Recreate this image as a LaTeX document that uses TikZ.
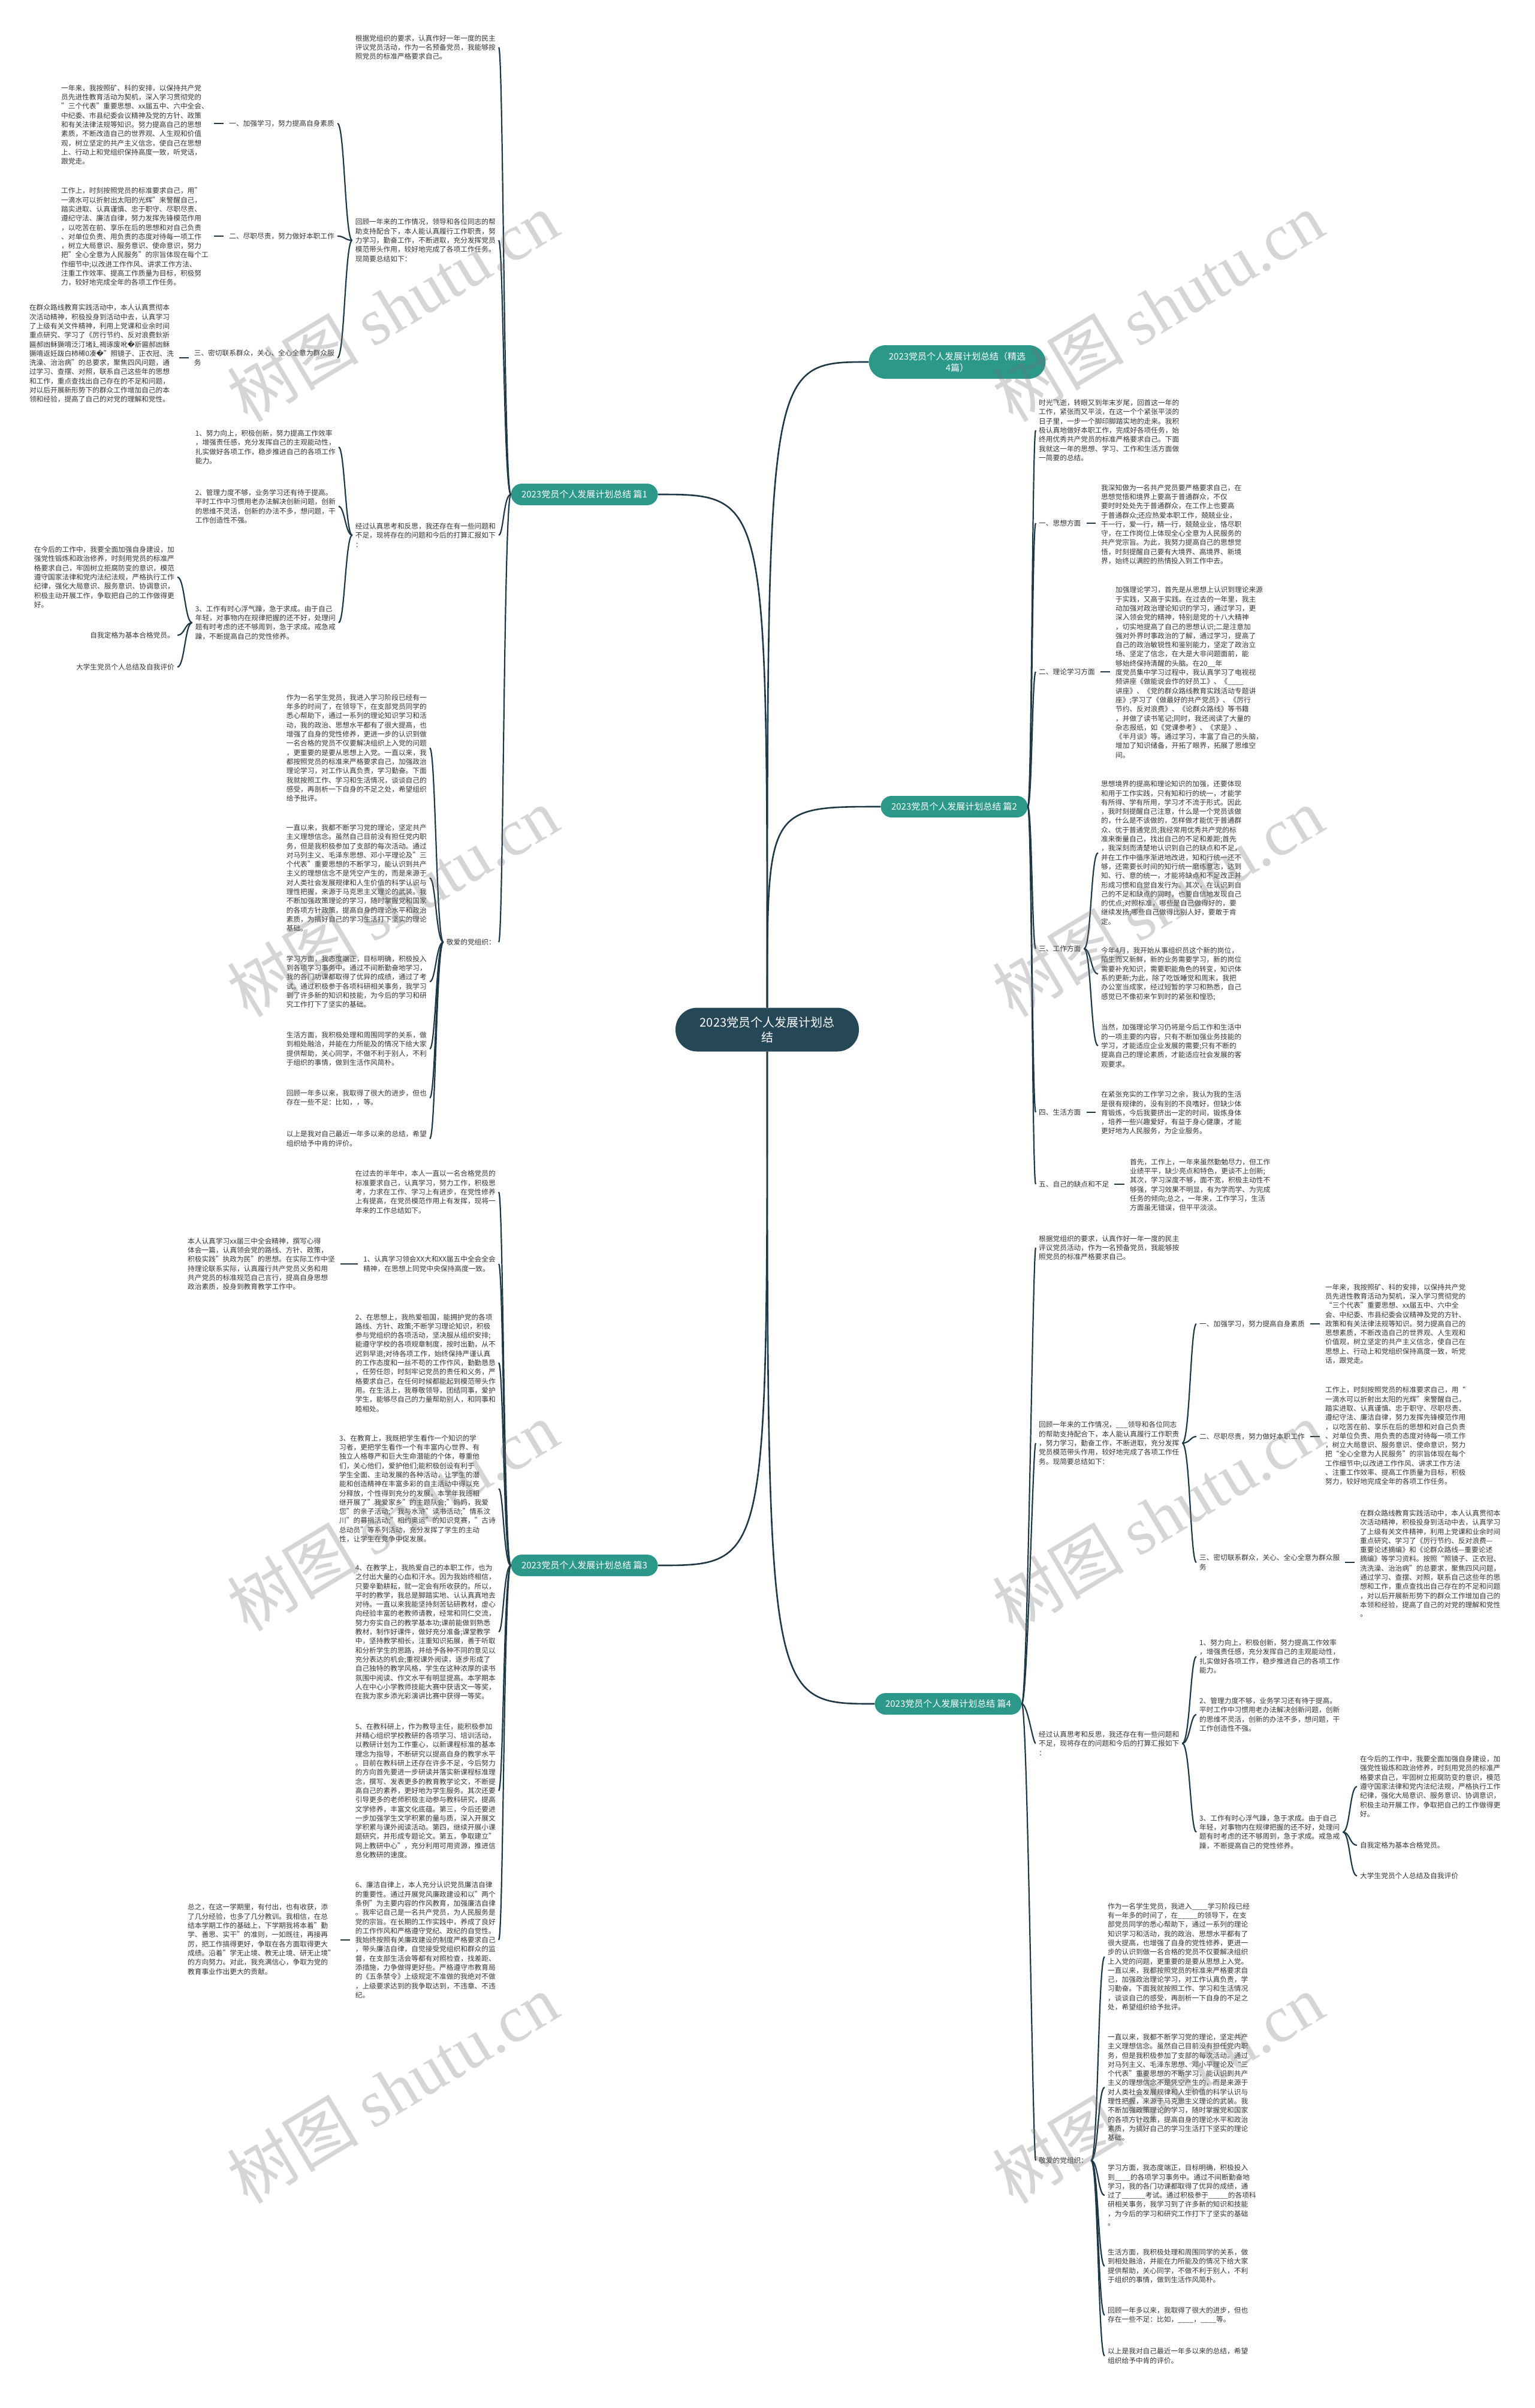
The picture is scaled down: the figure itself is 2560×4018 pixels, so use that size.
\documentclass[tikz,border=0pt]{standalone}
\usepackage{fontspec}
\setmainfont{Noto Sans CJK SC}
\newfontfamily\wmlatin{Liberation Serif}
\newfontfamily\repfont{DejaVu Sans}
\usepackage{tikz}
\definecolor{rootfill}{HTML}{264756}
\definecolor{topicfill}{HTML}{2C9889}
\definecolor{linecol}{HTML}{1F3846}
\definecolor{textcol}{HTML}{333333}
\newcommand{\bodysize}{\fontsize{11.7}{15.3}\selectfont}
\newcommand{\badchar}{{\repfont �}}

\begin{document}
\begin{tikzpicture}[x=1pt, y=-1pt,
root/.style={fill=rootfill, rounded corners=36pt, text=white, align=center, font=\fontsize{20}{25}\selectfont, minimum width=306pt, minimum height=73pt},
topic/.style={fill=topicfill, rounded corners=18pt, text=white, align=center, font=\fontsize{15}{19}\selectfont, minimum width=245pt, minimum height=36pt},
txt/.style={align=left, font=\bodysize, text=textcol, inner xsep=5pt, inner ysep=2pt},
conn/.style={draw=linecol, line width=2.2pt},
trunk/.style={draw=linecol, line width=2.6pt},
stub/.style={conn, shorten <=4pt, shorten >=4pt},
wm/.style={font=\fontsize{110}{120}\selectfont, text=black!55, opacity=.3, rotate=31}]
\useasboundingbox (0,0) rectangle (2560,4018);

\node[root] (ctr) at (1280,1718) {2023党员个人发展计划总\\结};
\node[topic] (p1) at (975,825) {2023党员个人发展计划总结 篇1};
\node[topic] (p3) at (975,2612) {2023党员个人发展计划总结 篇3};
\node[topic, minimum width=295pt, minimum height=56pt, rounded corners=28pt] (p0) at (1597,604) {2023党员个人发展计划总结（精选\\4篇）};
\node[topic] (p2) at (1592,1346) {2023党员个人发展计划总结 篇2};
\node[topic] (p4) at (1582,2843) {2023党员个人发展计划总结 篇4};

\node[txt, anchor=east] (a1) at (832,79) {根据党组织的要求，认真作好一年一度的民主\\评议党员活动，作为一名预备党员，我能够按\\照党员的标准严格要求自己。};
\node[txt, anchor=east] (a2) at (832,401) {回顾一年来的工作情况，领导和各位同志的帮\\助支持配合下，本人能认真履行工作职责，努\\力学习，勤奋工作，不断进取，充分发挥党员\\模范带头作用，较好地完成了各项工作任务。\\现简要总结如下：};
\node[txt, anchor=east] (a3) at (832,893) {经过认真思考和反思，我还存在有一些问题和\\不足，现将存在的问题和今后的打算汇报如下\\：};
\node[txt, anchor=east] (a4) at (832,1572) {敬爱的党组织：};

\node[txt, anchor=east] (b1) at (563,206) {一、加强学习，努力提高自身素质};
\node[txt, anchor=east] (b2) at (563,394) {二、尽职尽责，努力做好本职工作};
\node[txt, anchor=east] (b3) at (563,597) {三、密切联系群众，关心、全心全意为群众服\\务};
\node[txt, anchor=east] (c1) at (353,208) {一年来，我按照矿、科的安排，以保持共产党\\员先进性教育活动为契机，深入学习贯彻党的\\"三个代表"重要思想、xx届五中、六中全会、\\中纪委、市县纪委会议精神及党的方针、政策\\和有关法律法规等知识。努力提高自己的思想\\素质，不断改造自己的世界观、人生观和价值\\观，树立坚定的共产主义信念，使自己在思想\\上、行动上和党组织保持高度一致，听党话，\\跟党走。};
\node[txt, anchor=east] (c2) at (353,395) {工作上，时刻按照党员的标准要求自己，用"\\一滴水可以折射出太阳的光辉"来警醒自己，\\踏实进取、认真谨慎、忠于职守、尽职尽责、\\遵纪守法、廉洁自律，努力发挥先锋模范作用\\，以吃苦在前、享乐在后的思想和对自己负责\\、对单位负责、用负责的态度对待每一项工作\\，树立大局意识、服务意识、使命意识，努力\\把"全心全意为人民服务"的宗旨体现在每个工\\作细节中;以改进工作作风、讲求工作方法、\\注重工作效率、提高工作质量为目标，积极努\\力，较好地完成全年的各项工作任务。};
\node[txt, anchor=east] (c3) at (295,590) {在群众路线教育实践活动中，本人认真贯彻本\\次活动精神，积极投身到活动中去，认真学习\\了上级有关文件精神，利用上党课和业余时间\\重点研究、学习了《厉行节约、反对浪费鈥斨\\匾郝凼稣獗唷泛汀堵廴褐诼废吪\badchar 斨匾郝凼稣\\獗唷返妊跋白柿稀0凑\badchar "照镜子、正衣冠、洗\\洗澡、治治病"的总要求，聚焦四风问题，通\\过学习、查摆、对照，联系自己这些年的思想\\和工作，重点查找出自己存在的不足和问题，\\对以后开展新形势下的群众工作增加自己的本\\领和经验，提高了自己的对党的理解和党性。};

\node[txt, anchor=east] (d1) at (565,746) {1、努力向上，积极创新，努力提高工作效率\\，增强责任感，充分发挥自己的主观能动性，\\扎实做好各项工作，稳步推进自己的各项工作\\能力。};
\node[txt, anchor=east] (d2) at (565,845) {2、管理力度不够，业务学习还有待于提高。\\平时工作中习惯用老办法解决创新问题，创新\\的思维不灵活，创新的办法不多，想问题，干\\工作创造性不强。};
\node[txt, anchor=east] (d3) at (565,1039) {3、工作有时心浮气躁，急于求成。由于自己\\年轻，对事物内在规律把握的还不好，处理问\\题有时考虑的还不够周到，急于求成。戒急戒\\躁，不断提高自己的党性修养。};
\node[txt, anchor=east] (e1) at (296,963) {在今后的工作中，我要全面加强自身建设，加\\强党性锻炼和政治修养，时刻用党员的标准严\\格要求自己，牢固树立拒腐防变的意识，模范\\遵守国家法律和党内法纪法规，严格执行工作\\纪律，强化大局意识、服务意识、协调意识，\\积极主动开展工作，争取把自己的工作做得更\\好。};
\node[txt, anchor=east] (e2) at (296,1060) {自我定格为基本合格党员。};
\node[txt, anchor=east] (e3) at (296,1113) {大学生党员个人总结及自我评价};

\node[txt, anchor=east] (f1) at (717,1248) {作为一名学生党员，我进入学习阶段已经有一\\年多的时间了，在领导下，在支部党员同学的\\悉心帮助下，通过一系列的理论知识学习和活\\动，我的政治、思想水平都有了很大提高，也\\增强了自身的党性修养，更进一步的认识到做\\一名合格的党员不仅要解决组织上入党的问题\\，更重要的是要从思想上入党。一直以来，我\\都按照党员的标准来严格要求自己，加强政治\\理论学习，对工作认真负责，学习勤奋。下面\\我就按照工作、学习和生活情况，谈谈自己的\\感受，再剖析一下自身的不足之处，希望组织\\给予批评。};
\node[txt, anchor=east] (f2) at (717,1465) {一直以来，我都不断学习党的理论，坚定共产\\主义理想信念。虽然自己目前没有担任党内职\\务，但是我积极参加了支部的每次活动。通过\\对马列主义、毛泽东思想、邓小平理论及"三\\个代表"重要思想的不断学习，能认识到共产\\主义的理想信念不是凭空产生的，而是来源于\\对人类社会发展规律和人生价值的科学认识与\\理性把握，来源于马克思主义理论的武装。我\\不断加强政策理论的学习，随时掌握党和国家\\的各项方针政策，提高自身的理论水平和政治\\素质，为搞好自己的学习生活打下坚实的理论\\基础。};
\node[txt, anchor=east] (f3) at (717,1638) {学习方面，我态度端正，目标明确，积极投入\\到各项学习事务中。通过不间断勤奋地学习，\\我的各门功课都取得了优异的成绩，通过了考\\试。通过积极参于各项科研相关事务，我学习\\到了许多新的知识和技能，为今后的学习和研\\究工作打下了坚实的基础。};
\node[txt, anchor=east] (f4) at (717,1750) {生活方面，我积极处理和周围同学的关系，做\\到相处融洽，并能在力所能及的情况下给大家\\提供帮助，关心同学，不做不利于别人，不利\\于组织的事情，做到生活作风简朴。};
\node[txt, anchor=east] (f5) at (717,1832) {回顾一年多以来，我取得了很大的进步，但也\\存在一些不足：比如，，等。};
\node[txt, anchor=east] (f6) at (717,1900) {以上是我对自己最近一年多以来的总结，希望\\组织给予中肯的评价。};

\node[txt, anchor=east] (g0) at (832,1989) {在过去的半年中，本人一直以一名合格党员的\\标准要求自己，认真学习，努力工作，积极思\\考，力求在工作、学习上有进步，在党性修养\\上有提高，在党员模范作用上有发挥，现将一\\年来的工作总结如下。};
\node[txt, anchor=east] (g1) at (832,2109) {1、认真学习领会XX大和XX届五中全会全会\\精神，在思想上同党中央保持高度一致。};
\node[txt, anchor=east] (h1) at (564,2109) {本人认真学习xx届三中全会精神，撰写心得\\体会一篇，认真领会党的路线、方针、政策，\\积极实践"执政为民"的思想。在实际工作中坚\\持理论联系实际，认真履行共产党员义务和用\\共产党员的标准规范自己言行，提高自身思想\\政治素质，投身到教育教学工作中。};
\node[txt, anchor=east] (g2) at (832,2274) {2、在思想上，我热爱祖国，能拥护党的各项\\路线、方针、政策;不断学习理论知识，积极\\参与党组织的各项活动，坚决服从组织安排;\\能遵守学校的各项规章制度，按时出勤，从不\\迟到早退;对待各项工作，始终保持严谨认真\\的工作态度和一丝不苟的工作作风，勤勤恳恳\\，任劳任怨，时刻牢记党员的责任和义务，严\\格要求自己，在任何时候都能起到模范带头作\\用。在生活上，我尊敬领导，团结同事，爱护\\学生，能够尽自己的力量帮助别人，和同事和\\睦相处。};
\node[txt, anchor=east] (g3) at (832,2484) {3、在教育上，我既把学生看作一个知识的学\\习者，更把学生看作一个有丰富内心世界、有\\独立人格尊严和巨大生命潜能的个体，尊重他\\们，关心他们，爱护他们;能积极创设有利于\\学生全面、主动发展的各种活动，让学生的潜\\能和创造精神在丰富多彩的自主活动中得以充\\分释放，个性得到充分的发展。本学年我班相\\继开展了"我爱家乡"的主题队会;"妈妈，我爱\\您"的亲子活动;"我与水浒"读书活动;"情系汶\\川"的募捐活动;"相约奥运"的知识竞赛，"古诗\\总动员"等系列活动，充分发挥了学生的主动\\性，让学生在竞争中促发展。};
\node[txt, anchor=east] (g4) at (832,2723) {4、在教学上，我热爱自己的本职工作，也为\\之付出大量的心血和汗水。因为我始终相信，\\只要辛勤耕耘，就一定会有所收获的。所以，\\平时的教学，我总是脚踏实地、认认真真地去\\对待。一直以来我能坚持刻苦钻研教材，虚心\\向经验丰富的老教师请教，经常和同仁交流，\\努力夯实自己的教学基本功;课前能做到熟悉\\教材，制作好课件，做好充分准备;课堂教学\\中，坚持教学相长，注重知识拓展，善于听取\\和分析学生的思路，并给予各种不同的意见以\\充分表达的机会;重视课外阅读，逐步形成了\\自己独特的教学风格，学生在这种浓厚的读书\\氛围中阅读、作文水平有明显提高。本学期本\\人在中心小学教师技能大赛中获语文一等奖，\\在我为家乡添光彩演讲比赛中获得一等奖。};
\node[txt, anchor=east] (g5) at (832,2988) {5、在教科研上，作为教导主任，能积极参加\\并精心组织学校教研的各项学习、培训活动，\\以教研计划为工作重心，以新课程标准的基本\\理念为指导，不断研究以提高自身的教学水平\\。目前在教科研上还存在许多不足，今后努力\\的方向首先要进一步研读并落实新课程标准理\\念，撰写、发表更多的教育教学论文，不断提\\高自己的素养，更好地为学生服务。其次还要\\引导更多的老师积极主动参与教科研究，提高\\文学修养，丰富文化底蕴。第三，今后还要进\\一步加强学生文学积累的量与质，深入开展文\\学积累与课外阅读活动。第四，继续开展小课\\题研究，并形成专题论文。第五，争取建立"\\网上教研中心"，充分利用可用资源，推进信\\息化教研的速度。};
\node[txt, anchor=east] (g6) at (832,3237) {6、廉洁自律上，本人充分认识党员廉洁自律\\的重要性。通过开展党风廉政建设和以"两个\\条例"为主要内容的作风教育，加强廉洁自律\\。我牢记自己是一名共产党员，为人民服务是\\党的宗旨。在长期的工作实践中，养成了良好\\的工作作风和严格遵守党纪、政纪的自觉性。\\我始终按照有关廉政建设的制度严格要求自己\\，带头廉洁自律，自觉接受党组织和群众的监\\督，在支部生活会等都有对照检查，找差距、\\添措施，力争做得更好些。严格遵守市教育局\\的《五条禁令》上级规定不准做的我绝对不做\\，上级要求达到的我争取达到，不违章、不违\\纪。};
\node[txt, anchor=east] (h2) at (564,3236) {总之，在这一学期里，有付出，也有收获，添\\了几分经验，也多了几分教训。我相信，在总\\结本学期工作的基础上，下学期我将本着"勤\\学、善思、实干"的准则，一如既往，再接再\\厉，把工作搞得更好，争取在各方面取得更大\\成绩。沿着"学无止境、教无止境、研无止境"\\的方向努力。对此，我充满信心，争取为党的\\教育事业作出更大的贡献。};

\node[txt, anchor=west] (k0) at (1728,718) {时光飞逝，转眼又到年末岁尾，回首这一年的\\工作，紧张而又平淡，在这一个个紧张平淡的\\日子里，一步一个脚印脚踏实地的走来。我积\\极认真地做好本职工作，完成好各项任务，始\\终用优秀共产党员的标准严格要求自己。下面\\我就这一年的思想、学习、工作和生活方面做\\一简要的总结。};
\node[txt, anchor=west] (k1) at (1728,873) {一、思想方面};
\node[txt, anchor=west] (k1a) at (1832,875) {我深知做为一名共产党员要严格要求自己，在\\思想觉悟和境界上要高于普通群众，不仅\\要时时处处先于普通群众，在工作上也要高\\于普通群众;还应热爱本职工作，兢兢业业，\\干一行，爱一行，精一行，兢兢业业，恪尽职\\守，在工作岗位上体现全心全意为人民服务的\\共产党宗旨。为此，我努力提高自己的思想觉\\悟，时刻提醒自己要有大境界、高境界、新境\\界，始终以满腔的热情投入到工作中去。};
\node[txt, anchor=west] (k2) at (1728,1121) {二、理论学习方面};
\node[txt, anchor=west] (k2a) at (1856,1122) {加强理论学习，首先是从思想上认识到理论来源\\于实践，又高于实践。在过去的一年里，我主\\动加强对政治理论知识的学习，通过学习，更\\深入领会党的精神，特别是党的十八大精神\\，切实地提高了自己的思想认识;二是注意加\\强对外界时事政治的了解，通过学习，提高了\\自己的政治敏锐性和鉴别能力，坚定了政治立\\场、坚定了信念，在大是大非问题面前，能\\够始终保持清醒的头脑。在20\_\_年\\度党员集中学习过程中，我认真学习了电视视\\频讲座《做能说会作的好员工》、《\_\_\_\_\\讲座》、《党的群众路线教育实践活动专题讲\\座》;学习了《做最好的共产党员》、《厉行\\节约、反对浪费》、《论群众路线》等书籍\\，并做了读书笔记;同时，我还阅读了大量的\\杂志报纸，如《党课参考》、《求是》、\\《半月谈》等。通过学习，丰富了自己的头脑，\\增加了知识储备，开拓了眼界，拓展了思维空\\间。};
\node[txt, anchor=west] (k3) at (1728,1583) {三、工作方面};
\node[txt, anchor=west] (k3a) at (1832,1423) {思想境界的提高和理论知识的加强，还要体现\\和用于工作实践，只有知和行的统一，才能学\\有所得、学有所用，学习才不流于形式。因此\\，我时刻提醒自己注意，什么是一个党员该做\\的，什么是不该做的，怎样做才能优于普通群\\众、优于普通党员;我经常用优秀共产党的标\\准来衡量自己，找出自己的不足和差距;首先\\，我深刻而清楚地认识到自己的缺点和不足，\\并在工作中循序渐进地改进，知和行统一还不\\够，还需要长时间的知行统一磨练意志，达到\\知、行、意的统一，才能将缺点和不足改正并\\形成习惯和自觉自发行为。其次，在认识到自\\己的不足和缺点的同时，也要自信地发现自己\\的优点;对照标准，哪些是自己做得好的，要\\继续发扬;哪些自己做得比别人好，要敢于肯\\定。};
\node[txt, anchor=west] (k3b) at (1832,1625) {今年4月，我开始从事组织员这个新的岗位，\\陌生而又新鲜，新的业务需要学习，新的岗位\\需要补充知识，需要职能角色的转变，知识体\\系的更新;为此，除了吃饭睡觉和周末，我把\\办公室当成家，经过短暂的学习和熟悉，自己\\感觉已不像初来乍到时的紧张和惶恐;};
\node[txt, anchor=west] (k3c) at (1832,1745) {当然，加强理论学习仍将是今后工作和生活中\\的一项主要的内容，只有不断加强业务技能的\\学习，才能适应企业发展的需要;只有不断的\\提高自己的理论素质，才能适应社会发展的客\\观要求。};
\node[txt, anchor=west] (k4) at (1728,1856) {四、生活方面};
\node[txt, anchor=west] (k4a) at (1832,1857) {在紧张充实的工作学习之余，我认为我的生活\\是很有规律的，没有别的不良嗜好，但缺少体\\育锻炼，今后我要挤出一定的时间，锻炼身体\\，培养一些兴趣爱好，有益于身心健康，才能\\更好地为人民服务，为企业服务。};
\node[txt, anchor=west] (k5) at (1728,1976) {五、自己的缺点和不足};
\node[txt, anchor=west] (k5a) at (1880,1977) {首先，工作上，一年来虽然勤勉尽力，但工作\\业绩平平，缺少亮点和特色，更谈不上创新;\\其次，学习深度不够，面不宽，积极主动性不\\够强，学习效果不明显，有为学而学、为完成\\任务的倾向;总之，一年来，工作学习，生活\\方面虽无错误，但平平淡淡。};

\node[txt, anchor=west] (m0) at (1728,2082) {根据党组织的要求，认真作好一年一度的民主\\评议党员活动，作为一名预备党员，我能够按\\照党员的标准严格要求自己。};
\node[txt, anchor=west] (m1) at (1728,2408) {回顾一年来的工作情况，\_\_\_领导和各位同志\\的帮助支持配合下，本人能认真履行工作职责\\，努力学习，勤奋工作，不断进取，充分发挥\\党员模范带头作用，较好地完成了各项工作任\\务。现简要总结如下：};
\node[txt, anchor=west] (n1) at (1996,2209) {一、加强学习，努力提高自身素质};
\node[txt, anchor=west] (n2) at (1996,2397) {二、尽职尽责，努力做好本职工作};
\node[txt, anchor=west] (n3) at (1996,2607) {三、密切联系群众，关心、全心全意为群众服\\务};
\node[txt, anchor=west] (n1a) at (2206,2209) {一年来，我按照矿、科的安排，以保持共产党\\员先进性教育活动为契机，深入学习贯彻党的\\“三个代表”重要思想、xx届五中、六中全\\会、中纪委、市县纪委会议精神及党的方针、\\政策和有关法律法规等知识。努力提高自己的\\思想素质，不断改造自己的世界观、人生观和\\价值观，树立坚定的共产主义信念，使自己在\\思想上、行动上和党组织保持高度一致，听党\\话，跟党走。};
\node[txt, anchor=west] (n2a) at (2206,2396) {工作上，时刻按照党员的标准要求自己，用“\\一滴水可以折射出太阳的光辉”来警醒自己，\\踏实进取、认真谨慎、忠于职守、尽职尽责、\\遵纪守法、廉洁自律，努力发挥先锋模范作用\\，以吃苦在前、享乐在后的思想和对自己负责\\、对单位负责、用负责的态度对待每一项工作\\，树立大局意识、服务意识、使命意识，努力\\把“全心全意为人民服务”的宗旨体现在每个\\工作细节中;以改进工作作风、讲求工作方法\\、注重工作效率、提高工作质量为目标，积极\\努力，较好地完成全年的各项工作任务。};
\node[txt, anchor=west] (n3a) at (2264,2609) {在群众路线教育实践活动中，本人认真贯彻本\\次活动精神，积极投身到活动中去，认真学习\\了上级有关文件精神，利用上党课和业余时间\\重点研究、学习了《厉行节约、反对浪费—\\重要论述摘编》和《论群众路线—重要论述\\摘编》等学习资料。按照“照镜子、正衣冠、\\洗洗澡、治治病”的总要求，聚焦四风问题，\\通过学习、查摆、对照，联系自己这些年的思\\想和工作，重点查找出自己存在的不足和问题\\，对以后开展新形势下的群众工作增加自己的\\本领和经验，提高了自己的对党的理解和党性\\。};
\node[txt, anchor=west] (m2) at (1728,2909) {经过认真思考和反思，我还存在有一些问题和\\不足，现将存在的问题和今后的打算汇报如下\\：};
\node[txt, anchor=west] (q1) at (1996,2764) {1、努力向上，积极创新，努力提高工作效率\\，增强责任感，充分发挥自己的主观能动性，\\扎实做好各项工作，稳步推进自己的各项工作\\能力。};
\node[txt, anchor=west] (q2) at (1996,2861) {2、管理力度不够，业务学习还有待于提高。\\平时工作中习惯用老办法解决创新问题，创新\\的思维不灵活，创新的办法不多，想问题，干\\工作创造性不强。};
\node[txt, anchor=west] (q3) at (1996,3057) {3、工作有时心浮气躁，急于求成。由于自己\\年轻，对事物内在规律把握的还不好，处理问\\题有时考虑的还不够周到，急于求成。戒急戒\\躁，不断提高自己的党性修养。};
\node[txt, anchor=west] (q3a) at (2264,2981) {在今后的工作中，我要全面加强自身建设，加\\强党性锻炼和政治修养，时刻用党员的标准严\\格要求自己，牢固树立拒腐防变的意识，模范\\遵守国家法律和党内法纪法规，严格执行工作\\纪律，强化大局意识、服务意识、协调意识，\\积极主动开展工作，争取把自己的工作做得更\\好。};
\node[txt, anchor=west] (q3b) at (2264,3079) {自我定格为基本合格党员。};
\node[txt, anchor=west] (q3c) at (2264,3130) {大学生党员个人总结及自我评价};
\node[txt, anchor=west] (m3) at (1728,3605) {敬爱的党组织：};
\node[txt, anchor=west] (r1) at (1843,3265) {作为一名学生党员，我进入\_\_\_\_学习阶段已经\\有一年多的时间了，在\_\_\_\_\_的领导下，在支\\部党员同学的悉心帮助下，通过一系列的理论\\知识学习和活动，我的政治、思想水平都有了\\很大提高，也增强了自身的党性修养，更进一\\步的认识到做一名合格的党员不仅要解决组织\\上入党的问题，更重要的是要从思想上入党。\\一直以来，我都按照党员的标准来严格要求自\\己，加强政治理论学习，对工作认真负责，学\\习勤奋。下面我就按照工作、学习和生活情况\\，谈谈自己的感受，再剖析一下自身的不足之\\处，希望组织给予批评。};
\node[txt, anchor=west] (r2) at (1843,3483) {一直以来，我都不断学习党的理论，坚定共产\\主义理想信念。虽然自己目前没有担任党内职\\务，但是我积极参加了支部的每次活动。通过\\对马列主义、毛泽东思想、邓小平理论及“三\\个代表”重要思想的不断学习，能认识到共产\\主义的理想信念不是凭空产生的，而是来源于\\对人类社会发展规律和人生价值的科学认识与\\理性把握，来源于马克思主义理论的武装。我\\不断加强政策理论的学习，随时掌握党和国家\\的各项方针政策，提高自身的理论水平和政治\\素质，为搞好自己的学习生活打下坚实的理论\\基础。};
\node[txt, anchor=west] (r3) at (1843,3663) {学习方面，我态度端正，目标明确，积极投入\\到\_\_\_\_的各项学习事务中。通过不间断勤奋地\\学习，我的各门功课都取得了优异的成绩，通\\过了\_\_\_\_\_\_考试。通过积极参于\_\_\_\_\_的各项科\\研相关事务，我学习到了许多新的知识和技能\\，为今后的学习和研究工作打下了坚实的基础\\。};
\node[txt, anchor=west] (r4) at (1843,3781) {生活方面，我积极处理和周围同学的关系，做\\到相处融洽，并能在力所能及的情况下给大家\\提供帮助，关心同学，不做不利于别人，不利\\于组织的事情，做到生活作风简朴。};
\node[txt, anchor=west] (r5) at (1843,3863) {回顾一年多以来，我取得了很大的进步，但也\\存在一些不足：比如，\_\_\_\_，\_\_\_\_等。};
\node[txt, anchor=west] (r6) at (1843,3931) {以上是我对自己最近一年多以来的总结，希望\\组织给予中肯的评价。};

\draw[trunk] (ctr.north) .. controls (ctr.north |- p1.east) .. (p1.east); \draw[trunk] (ctr.north) .. controls (ctr.north |- p0.west) .. (p0.west); \draw[trunk] (ctr.north) .. controls (ctr.north |- p2.west) .. (p2.west);
\draw[trunk] (ctr.south) .. controls (ctr.south |- p3.east) .. (p3.east); \draw[trunk] (ctr.south) .. controls (ctr.south |- p4.west) .. (p4.west);

\draw[conn] (p1.west) .. controls +(-12,0) and +(8,0) .. (a1.east); \draw[conn] (p1.west) .. controls +(-12,0) and +(8,0) .. (a2.east); \draw[conn] (p1.west) .. controls +(-12,0) and +(8,0) .. (a3.east); \draw[conn] (p1.west) .. controls +(-12,0) and +(8,0) .. (a4.east);
\draw[conn] (a2.west) .. controls +(-12,0) and +(12,0) .. (b1.east); \draw[conn] (a2.west) .. controls +(-12,0) and +(12,0) .. (b2.east); \draw[conn] (a2.west) .. controls +(-12,0) and +(12,0) .. (b3.east);
\draw[stub] (b1.west) -- (b1.west -| c1.east); \draw[stub] (b2.west) -- (b2.west -| c2.east); \draw[stub] (b3.west) -- (b3.west -| c3.east);
\draw[conn] (a3.west) .. controls +(-11,0) and +(10,0) .. (d1.east); \draw[conn] (a3.west) .. controls +(-11,0) and +(10,0) .. (d2.east); \draw[conn] (a3.west) .. controls +(-11,0) and +(10,0) .. (d3.east);
\draw[conn] (d3.west) .. controls +(-12,0) and +(12,0) .. (e1.east); \draw[conn] (d3.west) .. controls +(-12,0) and +(12,0) .. (e2.east); \draw[conn] (d3.west) .. controls +(-12,0) and +(12,0) .. (e3.east);
\draw[conn] (a4.west) .. controls +(-12,0) and +(10,0) .. (f1.east); \draw[conn] (a4.west) .. controls +(-12,0) and +(10,0) .. (f2.east); \draw[conn] (a4.west) .. controls +(-12,0) and +(10,0) .. (f3.east);
\draw[conn] (a4.west) .. controls +(-12,0) and +(10,0) .. (f4.east); \draw[conn] (a4.west) .. controls +(-12,0) and +(10,0) .. (f5.east); \draw[conn] (a4.west) .. controls +(-12,0) and +(10,0) .. (f6.east);

\draw[conn] (p3.west) .. controls +(-12,0) and +(8,0) .. (g0.east); \draw[conn] (p3.west) .. controls +(-12,0) and +(8,0) .. (g1.east); \draw[conn] (p3.west) .. controls +(-12,0) and +(8,0) .. (g2.east); \draw[conn] (p3.west) .. controls +(-12,0) and +(8,0) .. (g3.east);
\draw[conn] (p3.west) .. controls +(-12,0) and +(8,0) .. (g4.east); \draw[conn] (p3.west) .. controls +(-12,0) and +(8,0) .. (g5.east); \draw[conn] (p3.west) .. controls +(-12,0) and +(8,0) .. (g6.east);
\draw[stub] (g1.west) -- (g1.west -| h1.east); \draw[stub] (g6.west) -- (g6.west -| h2.east);

\draw[conn] (p2.east) .. controls +(7,0) and +(-6,0) .. (k0.west); \draw[conn] (p2.east) .. controls +(7,0) and +(-6,0) .. (k1.west); \draw[conn] (p2.east) .. controls +(7,0) and +(-6,0) .. (k2.west);
\draw[conn] (p2.east) .. controls +(7,0) and +(-6,0) .. (k3.west); \draw[conn] (p2.east) .. controls +(7,0) and +(-6,0) .. (k4.west); \draw[conn] (p2.east) .. controls +(7,0) and +(-6,0) .. (k5.west);
\draw[stub] (k1.east) -- (k1.east -| k1a.west); \draw[stub] (k2.east) -- (k2.east -| k2a.west); \draw[stub] (k4.east) -- (k4.east -| k4a.west); \draw[stub] (k5.east) -- (k5.east -| k5a.west);
\draw[conn] (k3.east) .. controls +(12,0) and +(-12,0) .. (k3a.west); \draw[conn] (k3.east) .. controls +(12,0) and +(-12,0) .. (k3b.west); \draw[conn] (k3.east) .. controls +(12,0) and +(-12,0) .. (k3c.west);

\draw[conn] (p4.east) .. controls +(10,0) and +(-5,0) .. (m0.west); \draw[conn] (p4.east) .. controls +(10,0) and +(-5,0) .. (m1.west); \draw[conn] (p4.east) .. controls +(10,0) and +(-5,0) .. (m2.west); \draw[conn] (p4.east) .. controls +(10,0) and +(-5,0) .. (m3.west);
\draw[conn] (m1.east) .. controls +(13,0) and +(-10,0) .. (n1.west); \draw[conn] (m1.east) .. controls +(13,0) and +(-10,0) .. (n2.west); \draw[conn] (m1.east) .. controls +(13,0) and +(-10,0) .. (n3.west);
\draw[stub] (n1.east) -- (n1.east -| n1a.west); \draw[stub] (n2.east) -- (n2.east -| n2a.west); \draw[stub] (n3.east) -- (n3.east -| n3a.west);
\draw[conn] (m2.east) .. controls +(13,0) and +(-10,0) .. (q1.west); \draw[conn] (m2.east) .. controls +(13,0) and +(-10,0) .. (q2.west); \draw[conn] (m2.east) .. controls +(13,0) and +(-10,0) .. (q3.west);
\draw[conn] (q3.east) .. controls +(12,0) and +(-12,0) .. (q3a.west); \draw[conn] (q3.east) .. controls +(12,0) and +(-12,0) .. (q3b.west); \draw[conn] (q3.east) .. controls +(12,0) and +(-12,0) .. (q3c.west);
\draw[conn] (m3.east) .. controls +(12,0) and +(-11,0) .. (r1.west); \draw[conn] (m3.east) .. controls +(12,0) and +(-11,0) .. (r2.west); \draw[conn] (m3.east) .. controls +(12,0) and +(-11,0) .. (r3.west);
\draw[conn] (m3.east) .. controls +(12,0) and +(-11,0) .. (r4.west); \draw[conn] (m3.east) .. controls +(12,0) and +(-11,0) .. (r5.west); \draw[conn] (m3.east) .. controls +(12,0) and +(-11,0) .. (r6.west);

\node[wm] (w1) at (655,512) {树图 {\wmlatin shutu.cn}}; \node[wm] (w2) at (1932,512) {树图 {\wmlatin shutu.cn}};
\node[wm] (w3) at (655,1505) {树图 {\wmlatin shutu.cn}}; \node[wm] (w4) at (1932,1505) {树图 {\wmlatin shutu.cn}};
\node[wm] (w5) at (655,2530) {树图 {\wmlatin shutu.cn}}; \node[wm] (w6) at (1932,2530) {树图 {\wmlatin shutu.cn}};
\node[wm] (w7) at (655,3485) {树图 {\wmlatin shutu.cn}}; \node[wm] (w8) at (1932,3485) {树图 {\wmlatin shutu.cn}};
\end{tikzpicture}
\end{document}
